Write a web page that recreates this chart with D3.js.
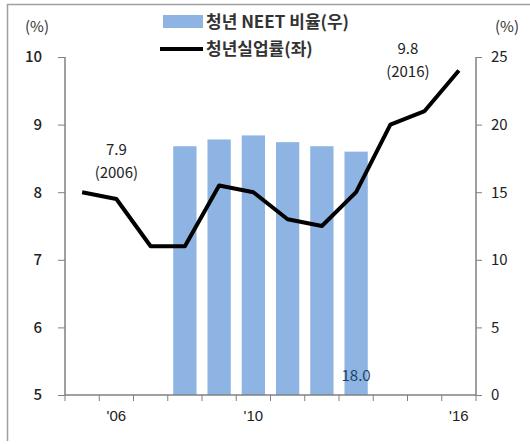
<!DOCTYPE html>
<html>
<head>
<meta charset="utf-8">
<script src="https://cdn.jsdelivr.net/npm/d3@7"></script>
<style>
  html, body { margin: 0; padding: 0; background: #fff; }
  svg { display: block; font-family: "Noto Sans CJK KR", "Noto Sans", sans-serif; }
</style>
</head>
<body>
<svg id="chart" width="530" height="444"></svg>
<script>
// Youth unemployment rate (left axis) and youth NEET ratio (right axis)
const years = [2005, 2006, 2007, 2008, 2009, 2010, 2011, 2012, 2013, 2014, 2015, 2016];
const unemployment = [8.0, 7.9, 7.2, 7.2, 8.1, 8.0, 7.6, 7.5, 8.0, 9.0, 9.2, 9.8];
const neetYears = [2008, 2009, 2010, 2011, 2012, 2013];
const neetRatio = [18.4, 18.9, 19.2, 18.7, 18.4, 18.0];
const xTickLabels = { 2006: "'06", 2010: "'10", 2016: "'16" };
const leftTicks = [5, 6, 7, 8, 9, 10];
const rightTicks = [0, 5, 10, 15, 20, 25];
const seriesNames = ["청년 NEET 비율(우)", "청년실업률(좌)"];

const svg = d3.select("#chart");
const m = { left: 65, right: 476, top: 57, bottom: 395 };

// frame
svg.append("path")
  .attr("d", `M7.5,441 V4.5 H530`)
  .attr("fill", "none").attr("stroke", "#a0a0a0").attr("stroke-width", 1.5);

const x = d3.scaleBand().domain(years).range([m.left, m.right]).paddingInner(0.32).paddingOuter(0.16);
const xStep = d3.scaleBand().domain(years).range([m.left, m.right]);
const yL = d3.scaleLinear().domain([5, 10]).range([m.bottom, m.top]);
const yR = d3.scaleLinear().domain([0, 25]).range([m.bottom, m.top]);

// bars
svg.append("g").selectAll("rect")
  .data(neetYears.map((y, i) => ({ y, v: neetRatio[i] })))
  .join("rect")
  .attr("x", d => x(d.y))
  .attr("width", x.bandwidth())
  .attr("y", d => yR(d.v))
  .attr("height", d => yR(0) - yR(d.v))
  .attr("fill", "#8db4e2");

// line
const line = d3.line()
  .x((d, i) => xStep(years[i]) + xStep.bandwidth() / 2)
  .y(d => yL(d));
svg.append("path")
  .datum(unemployment)
  .attr("d", line)
  .attr("fill", "none").attr("stroke", "#000").attr("stroke-width", 4)
  .attr("stroke-linejoin", "round");

// axes
const axisColor = "#808080";
const gL = svg.append("g").attr("transform", `translate(${m.left},0)`)
  .call(d3.axisLeft(yL).tickValues(leftTicks).tickSize(7).tickPadding(16).tickFormat(d3.format("d")));
const gR = svg.append("g").attr("transform", `translate(${m.right},0)`)
  .call(d3.axisRight(yR).tickValues(rightTicks).tickSize(6).tickPadding(9).tickFormat(d3.format("d")));
const gX = svg.append("g").attr("transform", `translate(0,${m.bottom})`)
  .call(d3.axisBottom(xStep).tickValues([]).tickSize(0));
// x ticks at category boundaries
gX.selectAll(".bnd").data(years.concat([null])).join("line")
  .attr("x1", (d, i) => m.left + i * xStep.step())
  .attr("x2", (d, i) => m.left + i * xStep.step())
  .attr("y1", 0).attr("y2", 6).attr("stroke", axisColor);
gX.selectAll(".yl").data(years.filter(y => xTickLabels[y])).join("text")
  .attr("x", d => xStep(d) + xStep.bandwidth() / 2)
  .attr("y", 26)
  .attr("text-anchor", "middle")
  .attr("font-size", 15).attr("fill", "#222")
  .text(d => xTickLabels[d]);

[gL, gR, gX].forEach(g => {
  g.select(".domain").attr("stroke", axisColor).attr("stroke-width", 1.5);
  g.selectAll(".tick line").attr("stroke", axisColor);
  g.selectAll(".tick text").attr("font-size", 15).attr("fill", "#222")
    .style("font-family", "\"Noto Sans CJK KR\", sans-serif");
});
gL.selectAll(".tick text").attr("font-weight", 500);
gX.select(".domain").attr("d", `M${m.left},0H${m.right}`);
gL.select(".domain").attr("d", `M0,${m.top}V${m.bottom}`);
gR.select(".domain").attr("d", `M0,${m.top}V${m.bottom}`);

// unit labels
svg.append("text").attr("x", 37).attr("y", 32).attr("text-anchor", "middle")
  .attr("font-size", 15).attr("fill", "#333").text("(%)");
svg.append("text").attr("x", 507).attr("y", 32).attr("text-anchor", "middle")
  .attr("font-size", 15).attr("fill", "#333").text("(%)");

// annotations (value and year, placed near the labelled point)
const cx = y => xStep(y) + xStep.bandwidth() / 2;
function annot(yr, val, tx, ty) {
  const t = svg.append("text").attr("text-anchor", "middle").attr("font-size", 15).attr("fill", "#222");
  t.append("tspan").attr("x", tx).attr("y", ty).text(d3.format(".1f")(val));
  t.append("tspan").attr("x", tx).attr("y", ty + 23).text(`(${yr})`);
}
annot(2006, unemployment[1], cx(2006), 155);
annot(2016, unemployment[11], cx(2016) - 51, 54);

// last bar value label
svg.append("text")
  .attr("x", x(2013) + x.bandwidth() / 2)
  .attr("y", 381)
  .attr("text-anchor", "middle")
  .attr("font-size", 15).attr("fill", "#1f3f66")
  .text(d3.format(".1f")(neetRatio[neetRatio.length - 1]));

// legend
const lg = svg.append("g");
lg.append("rect").attr("x", 163).attr("y", 15).attr("width", 40).attr("height", 13).attr("fill", "#8db4e2");
lg.append("line").attr("x1", 160).attr("x2", 203).attr("y1", 49).attr("y2", 49).attr("stroke", "#000").attr("stroke-width", 4);
lg.append("text").attr("x", 206).attr("y", 28).attr("font-size", 17).attr("font-weight", "bold").attr("fill", "#333").text(seriesNames[0]);
lg.append("text").attr("x", 206).attr("y", 55).attr("font-size", 17).attr("font-weight", "bold").attr("fill", "#333").text(seriesNames[1]);
</script>
</body>
</html>
